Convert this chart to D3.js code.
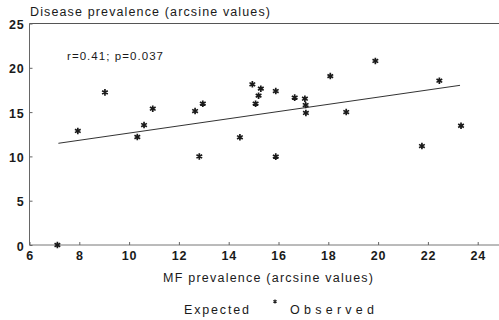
<!DOCTYPE html>
<html>
<head>
<meta charset="utf-8">
<script src="https://cdn.jsdelivr.net/npm/d3@7"></script>
<style>
  body { margin: 0; background: #fff; }
  svg { display: block; font-family: "Liberation Sans", Arial, sans-serif; }
</style>
</head>
<body>
<div id="chart"></div>
<script>
// observed points: MF prevalence (x) vs disease prevalence (y), arcsine values
const mfPrevalence = [7.12, 7.94, 9.03, 10.33, 10.60, 10.95, 12.65, 12.96, 12.82, 14.45, 14.95, 15.29, 15.20,
  15.08, 15.89, 15.89, 16.65, 17.06, 17.09, 17.10, 18.08, 18.72, 19.89, 21.76, 22.46, 23.33];
const diseasePrevalence = [0, 12.87, 17.23, 12.19, 13.54, 15.38, 15.12, 15.95, 9.99, 12.16, 18.14, 17.64, 16.85,
  15.95, 17.38, 9.97, 16.63, 16.51, 15.80, 14.90, 19.07, 15.01, 20.77, 11.17, 18.54, 13.46];

// expected (regression) line, read from its two ends
const expectedX = [7.16, 23.29];
const expectedY = [11.48, 18.02];

const xTicks = [6, 8, 10, 12, 14, 16, 18, 20, 22, 24];
const yTicks = [0, 5, 10, 15, 20, 25];
const statsLabel = 'r=0.41; p=0.037';

const width = 499, height = 320;
const ink = '#1a1a1a';

const svg = d3.select('#chart').append('svg')
  .attr('width', width)
  .attr('height', height);

const x = d3.scaleLinear().domain([6, 24]).range([29.5, 477.7]);
const y = d3.scaleLinear().domain([0, 25]).range([245, 23.5]);

// frame: left axis, top border, bottom axis
svg.append('line')
  .attr('x1', x(6)).attr('x2', x(6)).attr('y1', y(25)).attr('y2', y(0))
  .attr('stroke', '#666').attr('stroke-width', 1);
svg.append('line')
  .attr('x1', x(6)).attr('x2', width).attr('y1', y(25)).attr('y2', y(25))
  .attr('stroke', '#555').attr('stroke-width', 1);
svg.append('line')
  .attr('x1', x(6)).attr('x2', width).attr('y1', y(0)).attr('y2', y(0))
  .attr('stroke', '#777').attr('stroke-width', 1);

const yAxis = svg.append('g')
  .attr('transform', `translate(${x(6)},0)`)
  .call(d3.axisLeft(y).tickValues(yTicks).tickSizeInner(-3).tickSizeOuter(0).tickPadding(5));
yAxis.select('.domain').remove();
yAxis.selectAll('line').attr('stroke', '#666');
yAxis.selectAll('text')
  .attr('fill', ink)
  .attr('dy', '0.4em')
  .style('font-size', '12.5px')
  .style('font-weight', 'bold')
  .style('letter-spacing', '0.8px');

const xAxis = svg.append('g')
  .attr('transform', `translate(0,${y(0)})`)
  .call(d3.axisBottom(x).tickValues(xTicks).tickSizeInner(-3).tickSizeOuter(0).tickPadding(6));
xAxis.select('.domain').remove();
xAxis.selectAll('line').attr('stroke', '#666');
xAxis.selectAll('text')
  .attr('fill', ink)
  .style('font-size', '12.5px')
  .style('font-weight', 'bold')
  .style('letter-spacing', '0.8px');

// plain text helper, stretched to the width measured on the reference
function label(txt, x0, y0, size, len) {
  return svg.append('text')
    .attr('x', x0)
    .attr('y', y0)
    .attr('fill', ink)
    .attr('textLength', len)
    .attr('lengthAdjust', 'spacing')
    .style('font-size', size)
    .text(txt);
}

label('Disease prevalence (arcsine values)', 30, 16, '12.5px', 240);
label('MF prevalence (arcsine values)', 163, 281.5, '12.5px', 210);
label(statsLabel, 67, 60, '11.5px', 96);

// expected line
const line = d3.line().x(d => x(d[0])).y(d => y(d[1]));
svg.append('path')
  .datum(d3.zip(expectedX, expectedY))
  .attr('d', line)
  .attr('fill', 'none')
  .attr('stroke', '#333')
  .attr('stroke-width', 1);

// observed markers
const markerType = d3.symbolAsterisk || d3.symbolCross;
svg.append('g')
  .selectAll('path')
  .data(d3.zip(mfPrevalence, diseasePrevalence))
  .join('path')
  .attr('transform', d => `translate(${x(d[0])},${y(d[1])})`)
  .attr('d', d3.symbol().type(markerType).size(30))
  .attr('fill', ink)
  .attr('stroke', ink)
  .attr('stroke-width', 1.7);

// legend
label('Expected', 184, 313.5, '12.5px', 65);
svg.append('path')
  .attr('transform', 'translate(275,301.5)')
  .attr('d', d3.symbol().type(markerType).size(10))
  .attr('fill', ink)
  .attr('stroke', ink)
  .attr('stroke-width', 1.2);
label('Observed', 290, 313.5, '12.5px', 84);
</script>
</body>
</html>
